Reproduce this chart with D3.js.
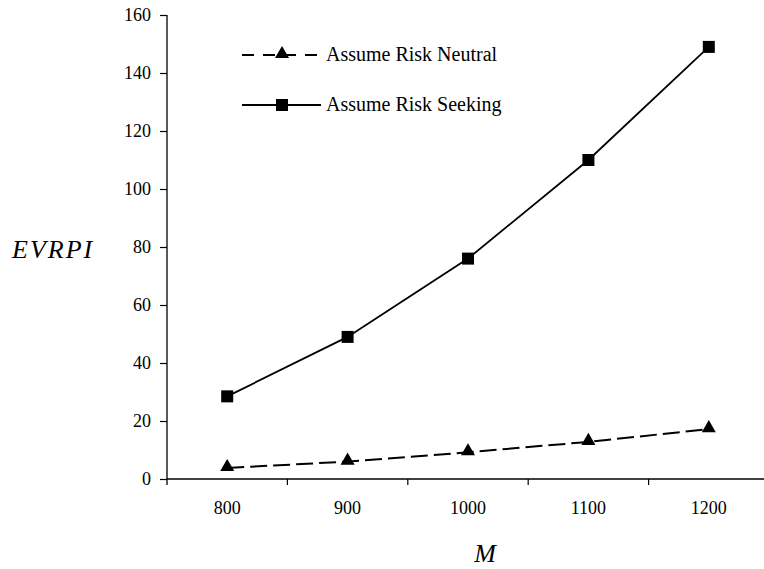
<!DOCTYPE html>
<html>
<head>
<meta charset="utf-8">
<script src="https://cdn.jsdelivr.net/npm/d3@7"></script>
<style>
  html, body { margin: 0; padding: 0; background: #fff; }
  svg { display: block; }
</style>
</head>
<body>
<svg id="chart" width="764" height="569"></svg>
<script>
// Values of M on the horizontal axis
const categories = ["800", "900", "1000", "1100", "1200"];
// EVRPI when the decision maker is assumed risk neutral
const neutralValues = [3.8, 6.0, 9.2, 12.8, 17.2];
// EVRPI when the decision maker is assumed risk seeking
const seekingValues = [28.5, 49.0, 76.0, 110.0, 149.0];
// Vertical axis tick values
const yTicks = [0, 20, 40, 60, 80, 100, 120, 140, 160];
const seriesNames = ["Assume Risk Neutral", "Assume Risk Seeking"];

const svg = d3.select("#chart");
const plotLeft = 167, plotRight = 769, plotTop = 15, plotBottom = 479;

const x = d3.scaleBand().domain(categories).range([plotLeft, plotRight]).paddingInner(0).paddingOuter(0);
const y = d3.scaleLinear().domain([0, 160]).range([plotBottom, plotTop]);

const serif = "'Liberation Serif', 'Times New Roman', serif";

// Y axis
const yAxis = svg.append("g")
  .attr("transform", `translate(${plotLeft},0)`)
  .call(d3.axisLeft(y).tickValues(yTicks).tickSize(7).tickSizeOuter(0).tickPadding(9));
yAxis.select(".domain").remove();
yAxis.selectAll(".tick line").attr("stroke", "#000").attr("stroke-width", 1.2);
yAxis.selectAll(".tick text")
  .attr("font-family", serif).attr("font-size", 18).attr("fill", "#000");
svg.append("line")
  .attr("x1", plotLeft).attr("x2", plotLeft)
  .attr("y1", y(160)).attr("y2", plotBottom + 6)
  .attr("stroke", "#000").attr("stroke-width", 1.3);

// X axis with labels centred in each band
const xAxis = svg.append("g")
  .attr("transform", `translate(0,${plotBottom})`)
  .call(d3.axisBottom(x).tickSize(0).tickPadding(22));
xAxis.select(".domain").remove();
xAxis.selectAll(".tick text")
  .attr("font-family", serif).attr("font-size", 18).attr("fill", "#000");
svg.append("line")
  .attr("x1", plotLeft).attr("x2", plotRight)
  .attr("y1", plotBottom).attr("y2", plotBottom)
  .attr("stroke", "#000").attr("stroke-width", 1.3);
// tick marks at the band boundaries
svg.append("g").selectAll("line")
  .data(categories.slice(1))
  .join("line")
  .attr("x1", d => x(d)).attr("x2", d => x(d))
  .attr("y1", plotBottom).attr("y2", plotBottom + 6)
  .attr("stroke", "#000").attr("stroke-width", 1.2);

const cx = d => x(d) + x.bandwidth() / 2;
const line = d3.line().x(d => cx(d.c)).y(d => y(d.v));

const neutral = categories.map((c, i) => ({ c, v: neutralValues[i] }));
const seeking = categories.map((c, i) => ({ c, v: seekingValues[i] }));

// Risk neutral series: dashed line with triangles
svg.append("path").datum(neutral)
  .attr("d", line).attr("fill", "none")
  .attr("stroke", "#000").attr("stroke-width", 2)
  .attr("stroke-dasharray", "17,6");
const tri = d3.symbol().type(d3.symbolTriangle).size(85);
svg.append("g").selectAll("path")
  .data(neutral).join("path")
  .attr("d", tri)
  .attr("transform", d => `translate(${cx(d.c)},${y(d.v) - 1})`)
  .attr("fill", "#000");

// Risk seeking series: solid line with squares
svg.append("path").datum(seeking)
  .attr("d", line).attr("fill", "none")
  .attr("stroke", "#000").attr("stroke-width", 1.8);
svg.append("g").selectAll("rect")
  .data(seeking).join("rect")
  .attr("x", d => cx(d.c) - 6).attr("y", d => y(d.v) - 6)
  .attr("width", 12).attr("height", 12)
  .attr("fill", "#000");

// Legend
const lg = svg.append("g");
lg.append("line").attr("x1", 242).attr("x2", 322).attr("y1", 55).attr("y2", 55)
  .attr("stroke", "#000").attr("stroke-width", 2).attr("stroke-dasharray", "12,9");
lg.append("path").attr("d", tri).attr("transform", "translate(282,54)").attr("fill", "#000");
lg.append("text").attr("x", 326).attr("y", 61)
  .attr("font-family", serif).attr("font-size", 20).attr("fill", "#000")
  .text(seriesNames[0]);

lg.append("line").attr("x1", 242).attr("x2", 321).attr("y1", 105).attr("y2", 105)
  .attr("stroke", "#000").attr("stroke-width", 1.8);
lg.append("rect").attr("x", 276).attr("y", 99).attr("width", 12).attr("height", 12).attr("fill", "#000");
lg.append("text").attr("x", 326).attr("y", 111)
  .attr("font-family", serif).attr("font-size", 20).attr("fill", "#000")
  .text(seriesNames[1]);

// Axis titles
svg.append("text").attr("x", 12).attr("y", 258)
  .attr("font-family", serif).attr("font-style", "italic").attr("font-size", 26)
  .attr("letter-spacing", 2)
  .attr("fill", "#000").text("EVRPI");
svg.append("text").attr("x", 485).attr("y", 562).attr("text-anchor", "middle")
  .attr("font-family", serif).attr("font-style", "italic").attr("font-size", 26)
  .attr("fill", "#000").text("M");
</script>
</body>
</html>
